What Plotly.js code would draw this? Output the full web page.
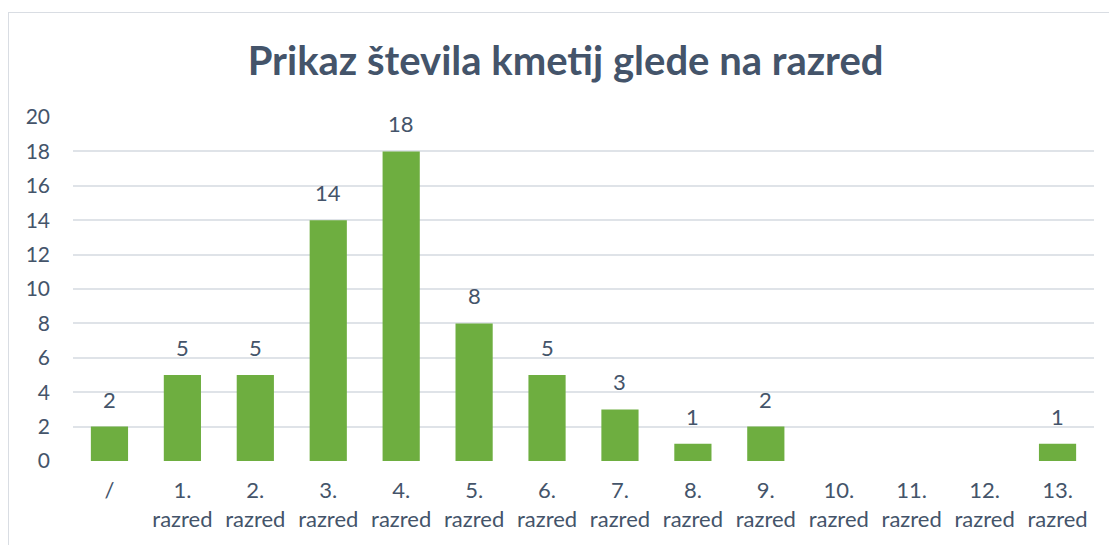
<!DOCTYPE html>
<html>
<head>
<meta charset="utf-8">
<script src="https://cdn.plot.ly/plotly-3.0.1.min.js"></script>
<style>
html,body{margin:0;padding:0;background:#fff;}
#wrap{position:relative;width:1109px;height:545px;}
#frame{position:absolute;left:8px;top:12px;width:1110px;height:560px;border:1px solid #d9dde3;box-sizing:border-box;pointer-events:none;}
#chart{position:absolute;left:0;top:0;width:1109px;height:545px;}
</style>
</head>
<body>
<div id="wrap"><div id="chart"></div><div id="frame"></div></div>
<script>
const categories = ["/", "1.<br>razred", "2.<br>razred", "3.<br>razred", "4.<br>razred", "5.<br>razred", "6.<br>razred", "7.<br>razred", "8.<br>razred", "9.<br>razred", "10.<br>razred", "11.<br>razred", "12.<br>razred", "13.<br>razred"];
const values = [2, 5, 5, 14, 18, 8, 5, 3, 1, 2, null, null, null, 1];
const yTicks = [0, 2, 4, 6, 8, 10, 12, 14, 16, 18, 20];
const titleText = "Prikaz števila kmetij glede na razred";

const textColor = "#44546a";
const fontFam = "Lato, 'Open Sans', sans-serif";

const labels = [];
categories.forEach((c, i) => {
  if (values[i] !== null) {
    labels.push({x: c, y: values[i], text: String(values[i]), showarrow: false,
      xref: "x", yref: "y", yanchor: "bottom", yshift: 12,
      font: {family: fontFam, size: 22, color: textColor}});
  }
});

Plotly.newPlot("chart", [{
  type: "bar",
  x: categories,
  y: values,
  marker: {color: "#6eae40", line: {width: 0}},
  hoverinfo: "x+y"
}], {
  width: 1109, height: 545,
  margin: {l: 73, r: 15, t: 117, b: 84},
  paper_bgcolor: "rgba(0,0,0,0)",
  plot_bgcolor: "#fff",
  bargap: 0.49,
  showlegend: false,
  annotations: labels,
  title: {text: "<b>" + titleText + "</b>", x: 0.51, xanchor: "center", y: 0.888, yanchor: "middle",
          font: {family: fontFam, size: 40, color: textColor}},
  xaxis: {type: "category", tickfont: {family: fontFam, size: 22, color: textColor},
          showgrid: false, zeroline: false, showline: false, ticks: "", ticklabelstandoff: 14},
  yaxis: {range: [0, 20], tickvals: yTicks, tickfont: {family: fontFam, size: 21, color: textColor},
          gridcolor: "#dfe3e8", gridwidth: 2, zeroline: false, showline: false, ticks: "",
          ticklabelstandoff: 22, fixedrange: true}
}, {displayModeBar: false, staticPlot: true});
</script>
</body>
</html>
